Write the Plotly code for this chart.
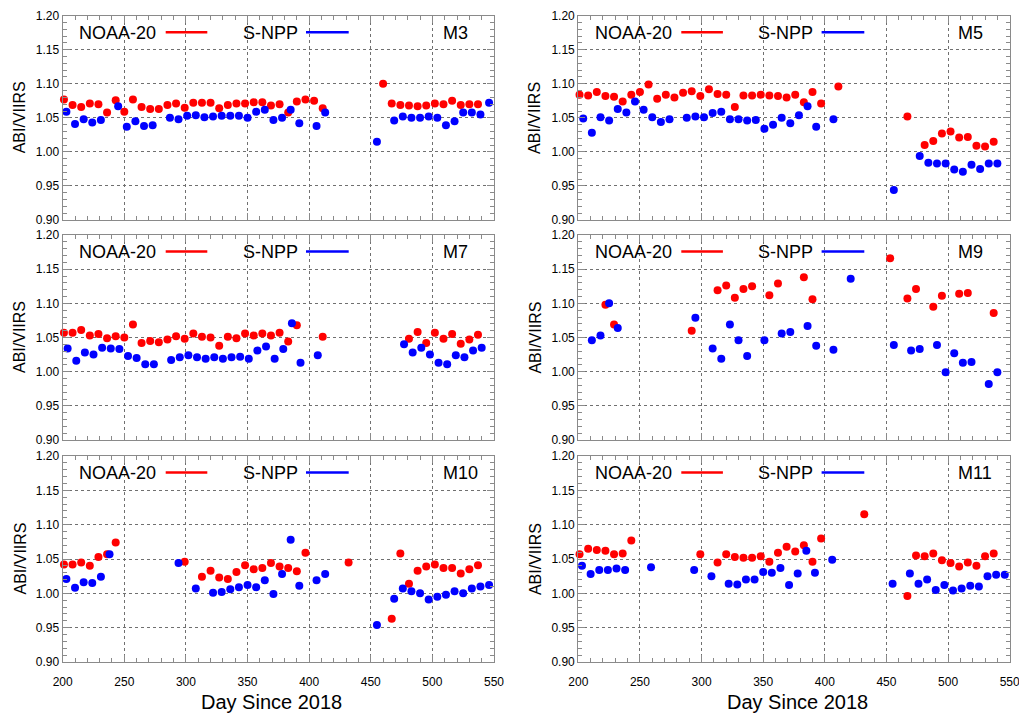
import plotly.graph_objects as go

# ---------------- data ----------------
M3_N20_DAY = [201, 208, 215, 222, 229, 236, 243, 250, 257, 264, 271, 278, 285, 292, 299, 306, 313, 320, 327, 334,
              341, 348, 355, 362, 369, 376, 383, 390, 397, 404, 411, 460, 467, 474, 481, 488, 495, 502, 509, 516,
              523, 530, 537]
M3_N20_RATIO = [1.077, 1.069, 1.066, 1.071, 1.070, 1.058, 1.076, 1.059, 1.077, 1.066, 1.063, 1.063, 1.069, 1.071,
                1.065, 1.072, 1.072, 1.072, 1.064, 1.069, 1.071, 1.071, 1.073, 1.073, 1.068, 1.070, 1.058, 1.074,
                1.077, 1.075, 1.064, 1.100, 1.071, 1.069, 1.068, 1.067, 1.068, 1.071, 1.070, 1.075, 1.069, 1.070,
                1.070]
M3_NPP_DAY = [203, 210, 217, 224, 231, 245, 252, 259, 266, 273, 287, 294, 301, 308, 315, 322, 329, 336, 343, 350,
              357, 364, 371, 378, 385, 392, 406, 413, 455, 469, 476, 483, 490, 497, 504, 511, 518, 525, 532, 539,
              546]
M3_NPP_RATIO = [1.059, 1.041, 1.048, 1.043, 1.047, 1.067, 1.037, 1.045, 1.038, 1.039, 1.050, 1.048, 1.053, 1.054,
                1.051, 1.052, 1.053, 1.053, 1.053, 1.050, 1.059, 1.062, 1.047, 1.050, 1.062, 1.042, 1.038, 1.058,
                1.015, 1.046, 1.052, 1.050, 1.050, 1.052, 1.050, 1.039, 1.045, 1.058, 1.058, 1.055, 1.072]

M5_N20_DAY = [201, 208, 215, 222, 229, 236, 243, 250, 257, 264, 271, 278, 285, 292, 299, 306, 313, 320, 327, 334,
              341, 348, 355, 362, 369, 376, 383, 390, 397, 411, 467, 481, 488, 495, 502, 509, 516, 523, 530, 537]
M5_N20_RATIO = [1.084, 1.083, 1.088, 1.082, 1.081, 1.074, 1.084, 1.088, 1.099, 1.078, 1.084, 1.080, 1.087, 1.089,
                1.082, 1.092, 1.085, 1.084, 1.066, 1.083, 1.083, 1.084, 1.083, 1.082, 1.080, 1.084, 1.073, 1.088,
                1.071, 1.096, 1.052, 1.010, 1.016, 1.027, 1.030, 1.021, 1.022, 1.009, 1.008, 1.015]
M5_NPP_DAY = [204, 211, 218, 225, 232, 239, 246, 253, 260, 267, 274, 288, 295, 302, 309, 316, 323, 330, 337, 344,
              351, 358, 365, 372, 379, 386, 393, 407, 456, 477, 484, 491, 498, 505, 512, 519, 526, 533, 540]
M5_NPP_RATIO = [1.049, 1.028, 1.051, 1.046, 1.063, 1.058, 1.074, 1.062, 1.051, 1.044, 1.048, 1.050, 1.052, 1.051,
                1.057, 1.059, 1.048, 1.048, 1.046, 1.047, 1.034, 1.040, 1.050, 1.042, 1.054, 1.067, 1.037, 1.048,
                0.944, 0.994, 0.984, 0.983, 0.983, 0.974, 0.971, 0.981, 0.975, 0.983, 0.983]

M7_N20_DAY = [201, 208, 215, 222, 229, 236, 243, 250, 257, 264, 271, 278, 285, 292, 299, 306, 313, 320, 327, 334,
              341, 348, 355, 362, 369, 376, 383, 390, 411, 481, 488, 495, 502, 509, 516, 523, 530, 537]
M7_N20_RATIO = [1.057, 1.057, 1.061, 1.053, 1.055, 1.049, 1.052, 1.050, 1.069, 1.042, 1.045, 1.043, 1.047, 1.052,
                1.048, 1.056, 1.051, 1.050, 1.038, 1.051, 1.049, 1.056, 1.053, 1.056, 1.053, 1.057, 1.044, 1.068,
                1.051, 1.048, 1.058, 1.042, 1.057, 1.048, 1.055, 1.041, 1.047, 1.054]
M7_NPP_DAY = [204, 211, 218, 225, 232, 239, 246, 253, 260, 267, 274, 288, 295, 302, 309, 316, 323, 330, 337, 344,
              351, 358, 365, 372, 379, 386, 393, 407, 477, 484, 491, 498, 505, 512, 519, 526, 533, 540]
M7_NPP_RATIO = [1.034, 1.016, 1.028, 1.025, 1.035, 1.034, 1.033, 1.023, 1.020, 1.011, 1.011, 1.017, 1.021, 1.024,
                1.021, 1.019, 1.021, 1.019, 1.021, 1.022, 1.019, 1.031, 1.037, 1.019, 1.033, 1.071, 1.013, 1.024,
                1.040, 1.028, 1.035, 1.025, 1.013, 1.011, 1.024, 1.021, 1.031, 1.035]

M9_N20_DAY = [222, 229, 292, 313, 320, 327, 334, 341, 355, 362, 383, 390, 453, 467, 474, 488, 495, 509, 516, 537]
M9_N20_RATIO = [1.098, 1.069, 1.060, 1.119, 1.126, 1.108, 1.121, 1.125, 1.112, 1.129, 1.138, 1.106, 1.166, 1.107,
                1.121, 1.095, 1.111, 1.114, 1.115, 1.086]
M9_NPP_DAY = [211, 218, 225, 232, 295, 309, 316, 323, 330, 337, 351, 365, 372, 386, 393, 407, 421, 456, 470, 477,
              491, 498, 505, 512, 519, 533, 540]
M9_NPP_RATIO = [1.046, 1.053, 1.100, 1.064, 1.079, 1.034, 1.019, 1.069, 1.046, 1.023, 1.046, 1.056, 1.058, 1.067,
                1.038, 1.032, 1.136, 1.039, 1.031, 1.033, 1.039, 0.999, 1.027, 1.013, 1.014, 0.982, 0.999]

M10_N20_DAY = [201, 208, 215, 222, 229, 236, 243, 299, 313, 320, 327, 334, 341, 348, 355, 362, 369, 376, 383, 390,
               397, 432, 467, 474, 481, 488, 495, 502, 509, 516, 523, 530, 537]
M10_N20_RATIO = [1.042, 1.042, 1.045, 1.040, 1.053, 1.057, 1.074, 1.046, 1.024, 1.033, 1.023, 1.021, 1.031, 1.041,
                 1.035, 1.037, 1.044, 1.039, 1.037, 1.032, 1.059, 1.045, 0.963, 1.058, 1.014, 1.033, 1.039, 1.042,
                 1.037, 1.037, 1.029, 1.035, 1.041]
M10_NPP_DAY = [203, 210, 217, 224, 231, 238, 294, 308, 322, 329, 336, 343, 350, 357, 364, 371, 378, 385, 392, 406,
               413, 455, 469, 476, 483, 490, 497, 504, 511, 518, 525, 532, 539, 546]
M10_NPP_RATIO = [1.021, 1.008, 1.016, 1.015, 1.024, 1.057, 1.044, 1.007, 1.001, 1.002, 1.006, 1.009, 1.012, 1.009,
                 1.019, 0.999, 1.028, 1.078, 1.011, 1.019, 1.028, 0.954, 0.992, 1.007, 1.003, 1.000, 0.991, 0.995,
                 0.998, 1.003, 1.000, 1.007, 1.010, 1.012]

M11_N20_DAY = [201, 208, 215, 222, 229, 236, 243, 299, 313, 320, 327, 334, 341, 348, 355, 362, 369, 376, 383, 390,
               397, 432, 467, 474, 481, 488, 495, 502, 509, 516, 523, 530, 537]
M11_N20_RATIO = [1.057, 1.065, 1.063, 1.062, 1.057, 1.058, 1.077, 1.057, 1.045, 1.057, 1.053, 1.052, 1.052, 1.054,
                 1.046, 1.059, 1.068, 1.061, 1.070, 1.046, 1.080, 1.115, 0.996, 1.055, 1.054, 1.058, 1.048, 1.044,
                 1.039, 1.045, 1.040, 1.054, 1.058]
M11_NPP_DAY = [203, 210, 217, 224, 231, 238, 259, 294, 308, 322, 329, 336, 343, 350, 357, 364, 371, 378, 385, 392,
               406, 455, 469, 476, 483, 490, 497, 504, 511, 518, 525, 532, 539, 546]
M11_NPP_RATIO = [1.040, 1.028, 1.034, 1.034, 1.036, 1.034, 1.038, 1.034, 1.025, 1.014, 1.013, 1.020, 1.020, 1.031,
                 1.030, 1.037, 1.012, 1.029, 1.062, 1.030, 1.049, 1.014, 1.029, 1.014, 1.020, 1.005, 1.012, 1.004,
                 1.007, 1.011, 1.010, 1.025, 1.027, 1.027]

BANDS = ["M3", "M5", "M7", "M9", "M10", "M11"]
SERIES_NAMES = ["NOAA-20", "S-NPP"]
X_TICKS = [200, 250, 300, 350, 400, 450, 500, 550]
Y_TICKS = [0.90, 0.95, 1.00, 1.05, 1.10, 1.15, 1.20]
Y_TITLE = "ABI/VIIRS"
X_TITLE = "Day Since 2018"

PANEL_DATA = [
    (M3_N20_DAY, M3_N20_RATIO, M3_NPP_DAY, M3_NPP_RATIO),
    (M5_N20_DAY, M5_N20_RATIO, M5_NPP_DAY, M5_NPP_RATIO),
    (M7_N20_DAY, M7_N20_RATIO, M7_NPP_DAY, M7_NPP_RATIO),
    (M9_N20_DAY, M9_N20_RATIO, M9_NPP_DAY, M9_NPP_RATIO),
    (M10_N20_DAY, M10_N20_RATIO, M10_NPP_DAY, M10_NPP_RATIO),
    (M11_N20_DAY, M11_N20_RATIO, M11_NPP_DAY, M11_NPP_RATIO),
]

# ---------------- layout ----------------
W, H = 1019, 713
RED = "#ff0000"
BLUE = "#0000ff"
FONT = "Liberation Sans, Arial, Helvetica, sans-serif"
FRAME = "#8a8a8a"
GRID = "#707070"

COL_PX = [(62.7, 494.0), (578.3, 1009.7)]
ROW_PX = [(15.7, 220.0), (235.0, 440.0), (456.0, 662.0)]


def px(x):
    return x / W


def py(y):
    return 1 - y / H


fig = go.Figure()
annotations = []
shapes = []

for i, (band, data) in enumerate(zip(BANDS, PANEL_DATA)):
    r, c = divmod(i, 2)
    n = i + 1
    xa = "x" if n == 1 else f"x{n}"
    ya = "y" if n == 1 else f"y{n}"
    rx, ry, bx, by = data
    fig.add_trace(go.Scatter(x=rx, y=ry, mode="markers", name=SERIES_NAMES[0],
                             marker=dict(color=RED, size=8, line=dict(width=0)),
                             xaxis=xa, yaxis=ya, showlegend=False, cliponaxis=False))
    fig.add_trace(go.Scatter(x=bx, y=by, mode="markers", name=SERIES_NAMES[1],
                             marker=dict(color=BLUE, size=8, line=dict(width=0)),
                             xaxis=xa, yaxis=ya, showlegend=False, cliponaxis=False))

    left, right = COL_PX[c]
    top, bottom = ROW_PX[r]
    xkey = "xaxis" if n == 1 else f"xaxis{n}"
    ykey = "yaxis" if n == 1 else f"yaxis{n}"
    fig.layout[xkey] = dict(
        domain=[px(left), px(right)], anchor=ya, range=[200, 550], automargin=False,
        tickvals=X_TICKS, ticktext=[str(v) for v in X_TICKS],
        showticklabels=(r == 2), tickfont=dict(size=12, color="black", family=FONT),
        ticklabeloverflow="allow",
        ticks="inside", ticklen=7, tickcolor=FRAME, tickwidth=1,
        ticklabelstandoff=8,
        minor=dict(dtick=10, tick0=200, ticks="inside", ticklen=4, tickcolor=FRAME, showgrid=False),
        showgrid=True, gridcolor=GRID, griddash="dot", gridwidth=1,
        showline=True, linecolor=FRAME, linewidth=1.2, mirror="allticks", zeroline=False,
    )
    fig.layout[ykey] = dict(
        domain=[py(bottom), py(top)], anchor=xa, range=[0.9, 1.2], automargin=False,
        tickvals=Y_TICKS, ticktext=[f"{v:.2f}" for v in Y_TICKS],
        tickfont=dict(size=12, color="black", family=FONT),
        ticklabeloverflow="allow",
        ticks="inside", ticklen=7, tickcolor=FRAME, tickwidth=1,
        minor=dict(dtick=0.01, tick0=0.9, ticks="inside", ticklen=4, tickcolor=FRAME, showgrid=False),
        showgrid=True, gridcolor=GRID, griddash="dot", gridwidth=1,
        showline=True, linecolor=FRAME, linewidth=1.2, mirror="allticks", zeroline=False,
    )

    # in-panel legend
    ty = top + 17.0
    annotations.append(dict(text=SERIES_NAMES[0], x=px(left + 14.6), y=py(ty), xref="paper", yref="paper",
                            xanchor="left", yanchor="middle", showarrow=False,
                            font=dict(size=18, color="black", family=FONT)))
    annotations.append(dict(text=SERIES_NAMES[1], x=px(left + 178.0), y=py(ty), xref="paper", yref="paper",
                            xanchor="left", yanchor="middle", showarrow=False,
                            font=dict(size=18, color="black", family=FONT)))
    annotations.append(dict(text=band, x=px(left + 378.0), y=py(ty), xref="paper", yref="paper",
                            xanchor="left", yanchor="middle", showarrow=False,
                            font=dict(size=18, color="black", family=FONT)))
    ly = top + 16.6
    shapes.append(dict(type="line", xref="paper", yref="paper", x0=px(left + 103.0), x1=px(left + 144.6),
                       y0=py(ly), y1=py(ly), line=dict(color=RED, width=2.5)))
    shapes.append(dict(type="line", xref="paper", yref="paper", x0=px(left + 243.3), x1=px(left + 286.0),
                       y0=py(ly), y1=py(ly), line=dict(color=BLUE, width=2.5)))

    # y title
    annotations.append(dict(text=Y_TITLE, x=px(19.5) if c == 0 else px(19.5 + 515.6), y=py((top + bottom) / 2),
                            xref="paper", yref="paper", xanchor="center", yanchor="middle",
                            textangle=-90, showarrow=False,
                            font=dict(size=16, color="black", family=FONT)))

for cx in (271.0, 797.0):
    annotations.append(dict(text=X_TITLE, x=px(cx), y=py(701.5), xref="paper", yref="paper",
                            xanchor="center", yanchor="middle", showarrow=False,
                            font=dict(size=20, color="black", family=FONT)))

fig.update_layout(
    width=W, height=H, margin=dict(l=0, r=0, t=0, b=0, autoexpand=False),
    paper_bgcolor="white", plot_bgcolor="white",
    annotations=annotations, shapes=shapes, showlegend=False,
    font=dict(family=FONT, color="black"),
)

fig.write_html("out.html")
